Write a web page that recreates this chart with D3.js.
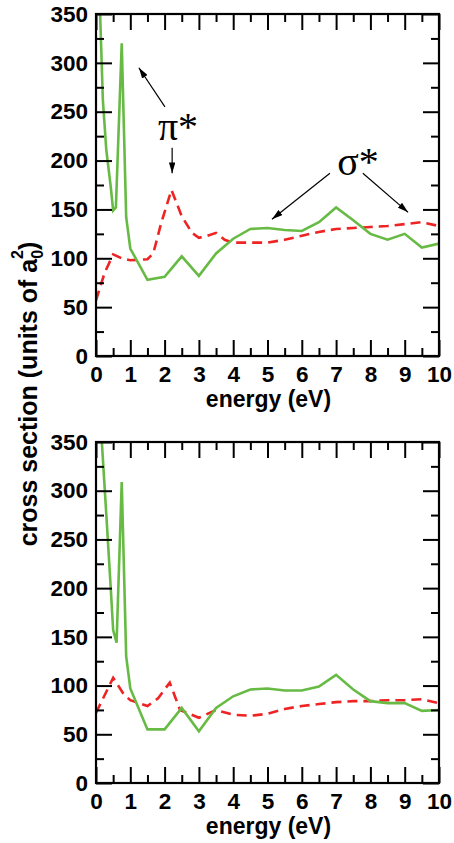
<!DOCTYPE html>
<html><head><meta charset="utf-8">
<script src="https://cdn.jsdelivr.net/npm/d3@7"></script>
<style>
html,body{margin:0;padding:0;background:#fff;}
svg{display:block;}
text{font-family:"Liberation Sans",Arial,Helvetica,sans-serif;font-weight:bold;fill:#000;}
</style></head>
<body>
<script>
// ---- data ----
const xTicks = [0,1,2,3,4,5,6,7,8,9,10];
const yTicks = [0,50,100,150,200,250,300,350];

const topGreenE = [0.12,0.2,0.3,0.43,0.5,0.58,0.75,0.88,1.0,1.5,2.0,2.5,3.0,3.5,4.0,4.5,5.0,5.5,6.0,6.5,7.0,7.5,8.0,8.5,9.0,9.5,10];
const topGreenV = [350,262,211,173,149,152,320,142,110,78,81,102,82,105,120,130,131,129,128,137,152,139,125,119,125,111,115];

const topRedE = [0,0.25,0.5,0.75,1.0,1.5,1.67,1.9,2.2,2.5,2.8,3.0,3.25,3.5,3.75,4.0,4.5,5.0,5.5,6.0,6.5,7.0,7.5,8.0,8.5,9.0,9.5,10];
const topRedV = [57,85,104,100,98,99,105,136,170,143,126,121,123,126,119,116,116,116,119,123,127,130,131,132,133,135,137,133];

const botGreenE = [0.17,0.31,0.43,0.5,0.6,0.75,0.88,1.0,1.5,2.0,2.5,3.0,3.5,4.0,4.5,5.0,5.5,6.0,6.5,7.0,7.5,8.0,8.5,9.0,9.5,10];
const botGreenV = [350,270,200,157,144,309,130,97,55,55,77,53,77,89,96,97,95,95,99,111,96,84,82,82,74,75];

const botRedE = [0,0.5,0.81,1.0,1.5,1.81,2.15,2.45,3.0,3.5,4.0,4.5,5.0,5.5,6.0,6.5,7.0,7.5,8.0,8.5,9.0,9.5,10];
const botRedV = [72,108,91,85,79,87,103,75,67,75,70,69,71,76,79,81,83,84,84,85,85,86,82];

// annotations (data coordinates, top panel)
const labels = [
  {text:"\u03c0*", e:2.39, v:221},
  {text:"\u03c3*", e:7.64, v:185}
];
const arrows = [
  {e1:2.01, v1:255, e2:1.25, v2:295},
  {e1:2.22, v1:213, e2:2.22, v2:187},
  {e1:6.82, v1:187, e2:5.13, v2:140},
  {e1:7.78, v1:187, e2:9.10, v2:147}
];

// ---- layout ----
const W = 454, H = 843;
const left = 96, right = 439;
const panels = [
  {top:14, bottom:356, green:[topGreenE,topGreenV], red:[topRedE,topRedV], annot:true},
  {top:442, bottom:783, green:[botGreenE,botGreenV], red:[botRedE,botRedV], annot:false}
];
const GREEN = "#67bb45", RED = "#ee2424";

const svg = d3.select("body").append("svg").attr("width",W).attr("height",H);
const defs = svg.append("defs");
defs.append("marker").attr("id","ah").attr("viewBox","0 0 10 6")
  .attr("refX",10).attr("refY",3).attr("markerWidth",11).attr("markerHeight",6.5)
  .attr("markerUnits","userSpaceOnUse").attr("orient","auto")
  .append("path").attr("d","M0,0 L10,3 L0,6 Z").attr("fill","#000");

panels.forEach((p,i)=>{
  const x = d3.scaleLinear().domain([0,10]).range([left,right]);
  const y = d3.scaleLinear().domain([0,350]).range([p.bottom,p.top]);
  const g = svg.append("g");
  defs.append("clipPath").attr("id","clip"+i).append("rect")
    .attr("x",left).attr("y",p.top).attr("width",right-left).attr("height",p.bottom-p.top);

  const line = d3.line().x(d=>x(d[0])).y(d=>y(d[1]));
  const zipped = arr => arr[0].map((e,k)=>[e,arr[1][k]]);

  g.append("path").attr("clip-path",`url(#clip${i})`).datum(zipped(p.red)).attr("d",line)
    .attr("fill","none").attr("stroke",RED).attr("stroke-width",2.6).attr("stroke-dasharray","10,6");
  g.append("path").attr("clip-path",`url(#clip${i})`).datum(zipped(p.green)).attr("d",line)
    .attr("fill","none").attr("stroke",GREEN).attr("stroke-width",2.6).attr("stroke-linejoin","miter");

  // axes (ticks inward on all four sides)
  const minorX = d3.range(0.5,10,1);
  const minorY = d3.range(25,350,50);
  const axB = g.append("g").attr("transform",`translate(0,${p.bottom})`)
    .call(d3.axisBottom(x).tickValues(xTicks).tickSize(-16).tickFormat(d3.format("d")));
  const axT = g.append("g").attr("transform",`translate(0,${p.top})`)
    .call(d3.axisTop(x).tickValues(xTicks).tickSize(-16).tickFormat(""));
  const axL = g.append("g").attr("transform",`translate(${left},0)`)
    .call(d3.axisLeft(y).tickValues(yTicks).tickSize(-16).tickFormat(d3.format("d")));
  const axR = g.append("g").attr("transform",`translate(${right},0)`)
    .call(d3.axisRight(y).tickValues(yTicks).tickSize(-16).tickFormat(""));
  g.append("g").attr("transform",`translate(0,${p.bottom})`).call(d3.axisBottom(x).tickValues(minorX).tickSize(-8).tickFormat(""));
  g.append("g").attr("transform",`translate(0,${p.top})`).call(d3.axisTop(x).tickValues(minorX).tickSize(-8).tickFormat(""));
  g.append("g").attr("transform",`translate(${left},0)`).call(d3.axisLeft(y).tickValues(minorY).tickSize(-8).tickFormat(""));
  g.append("g").attr("transform",`translate(${right},0)`).call(d3.axisRight(y).tickValues(minorY).tickSize(-8).tickFormat(""));
  g.selectAll(".domain").remove();
  g.selectAll(".tick line").attr("stroke","#000").attr("stroke-width",2);
  g.selectAll(".tick text").style("font-size","22.5px").style("font-family","'Liberation Sans',Arial,sans-serif").style("font-weight","bold").attr("fill","#000");
  axB.selectAll(".tick text").attr("dy",null).attr("y",26);
  axL.selectAll(".tick text").attr("x",-8);
  g.append("rect").attr("x",left).attr("y",p.top).attr("width",right-left).attr("height",p.bottom-p.top)
    .attr("fill","none").attr("stroke","#000").attr("stroke-width",2.2);

  g.append("text").attr("x",(left+right)/2+1).attr("y",p.bottom+51).attr("text-anchor","middle")
    .style("font-size","23px").text("energy (eV)");

  if(p.annot){
    labels.forEach(l=>{
      g.append("text").attr("x",x(l.e)).attr("y",y(l.v)).attr("text-anchor","middle")
        .style("font-family","'Liberation Serif','Times New Roman',serif").style("font-weight","normal")
        .style("font-size","40px").text(l.text);
    });
    arrows.forEach(a=>{
      g.append("line").attr("x1",x(a.e1)).attr("y1",y(a.v1)).attr("x2",x(a.e2)).attr("y2",y(a.v2))
        .attr("stroke","#000").attr("stroke-width",1.2).attr("marker-end","url(#ah)");
    });
  }
});

// y label spanning both panels
const yl = svg.append("text").attr("transform","translate(37,394) rotate(-90)").attr("text-anchor","middle")
  .style("font-size","25px");
yl.append("tspan").text("cross section (units of a");
yl.append("tspan").attr("dy",6).style("font-size","16px").text("0");
yl.append("tspan").attr("dx",-9).attr("dy",-20).style("font-size","16px").text("2");
yl.append("tspan").attr("dy",14).text(")");
</script>
</body></html>
